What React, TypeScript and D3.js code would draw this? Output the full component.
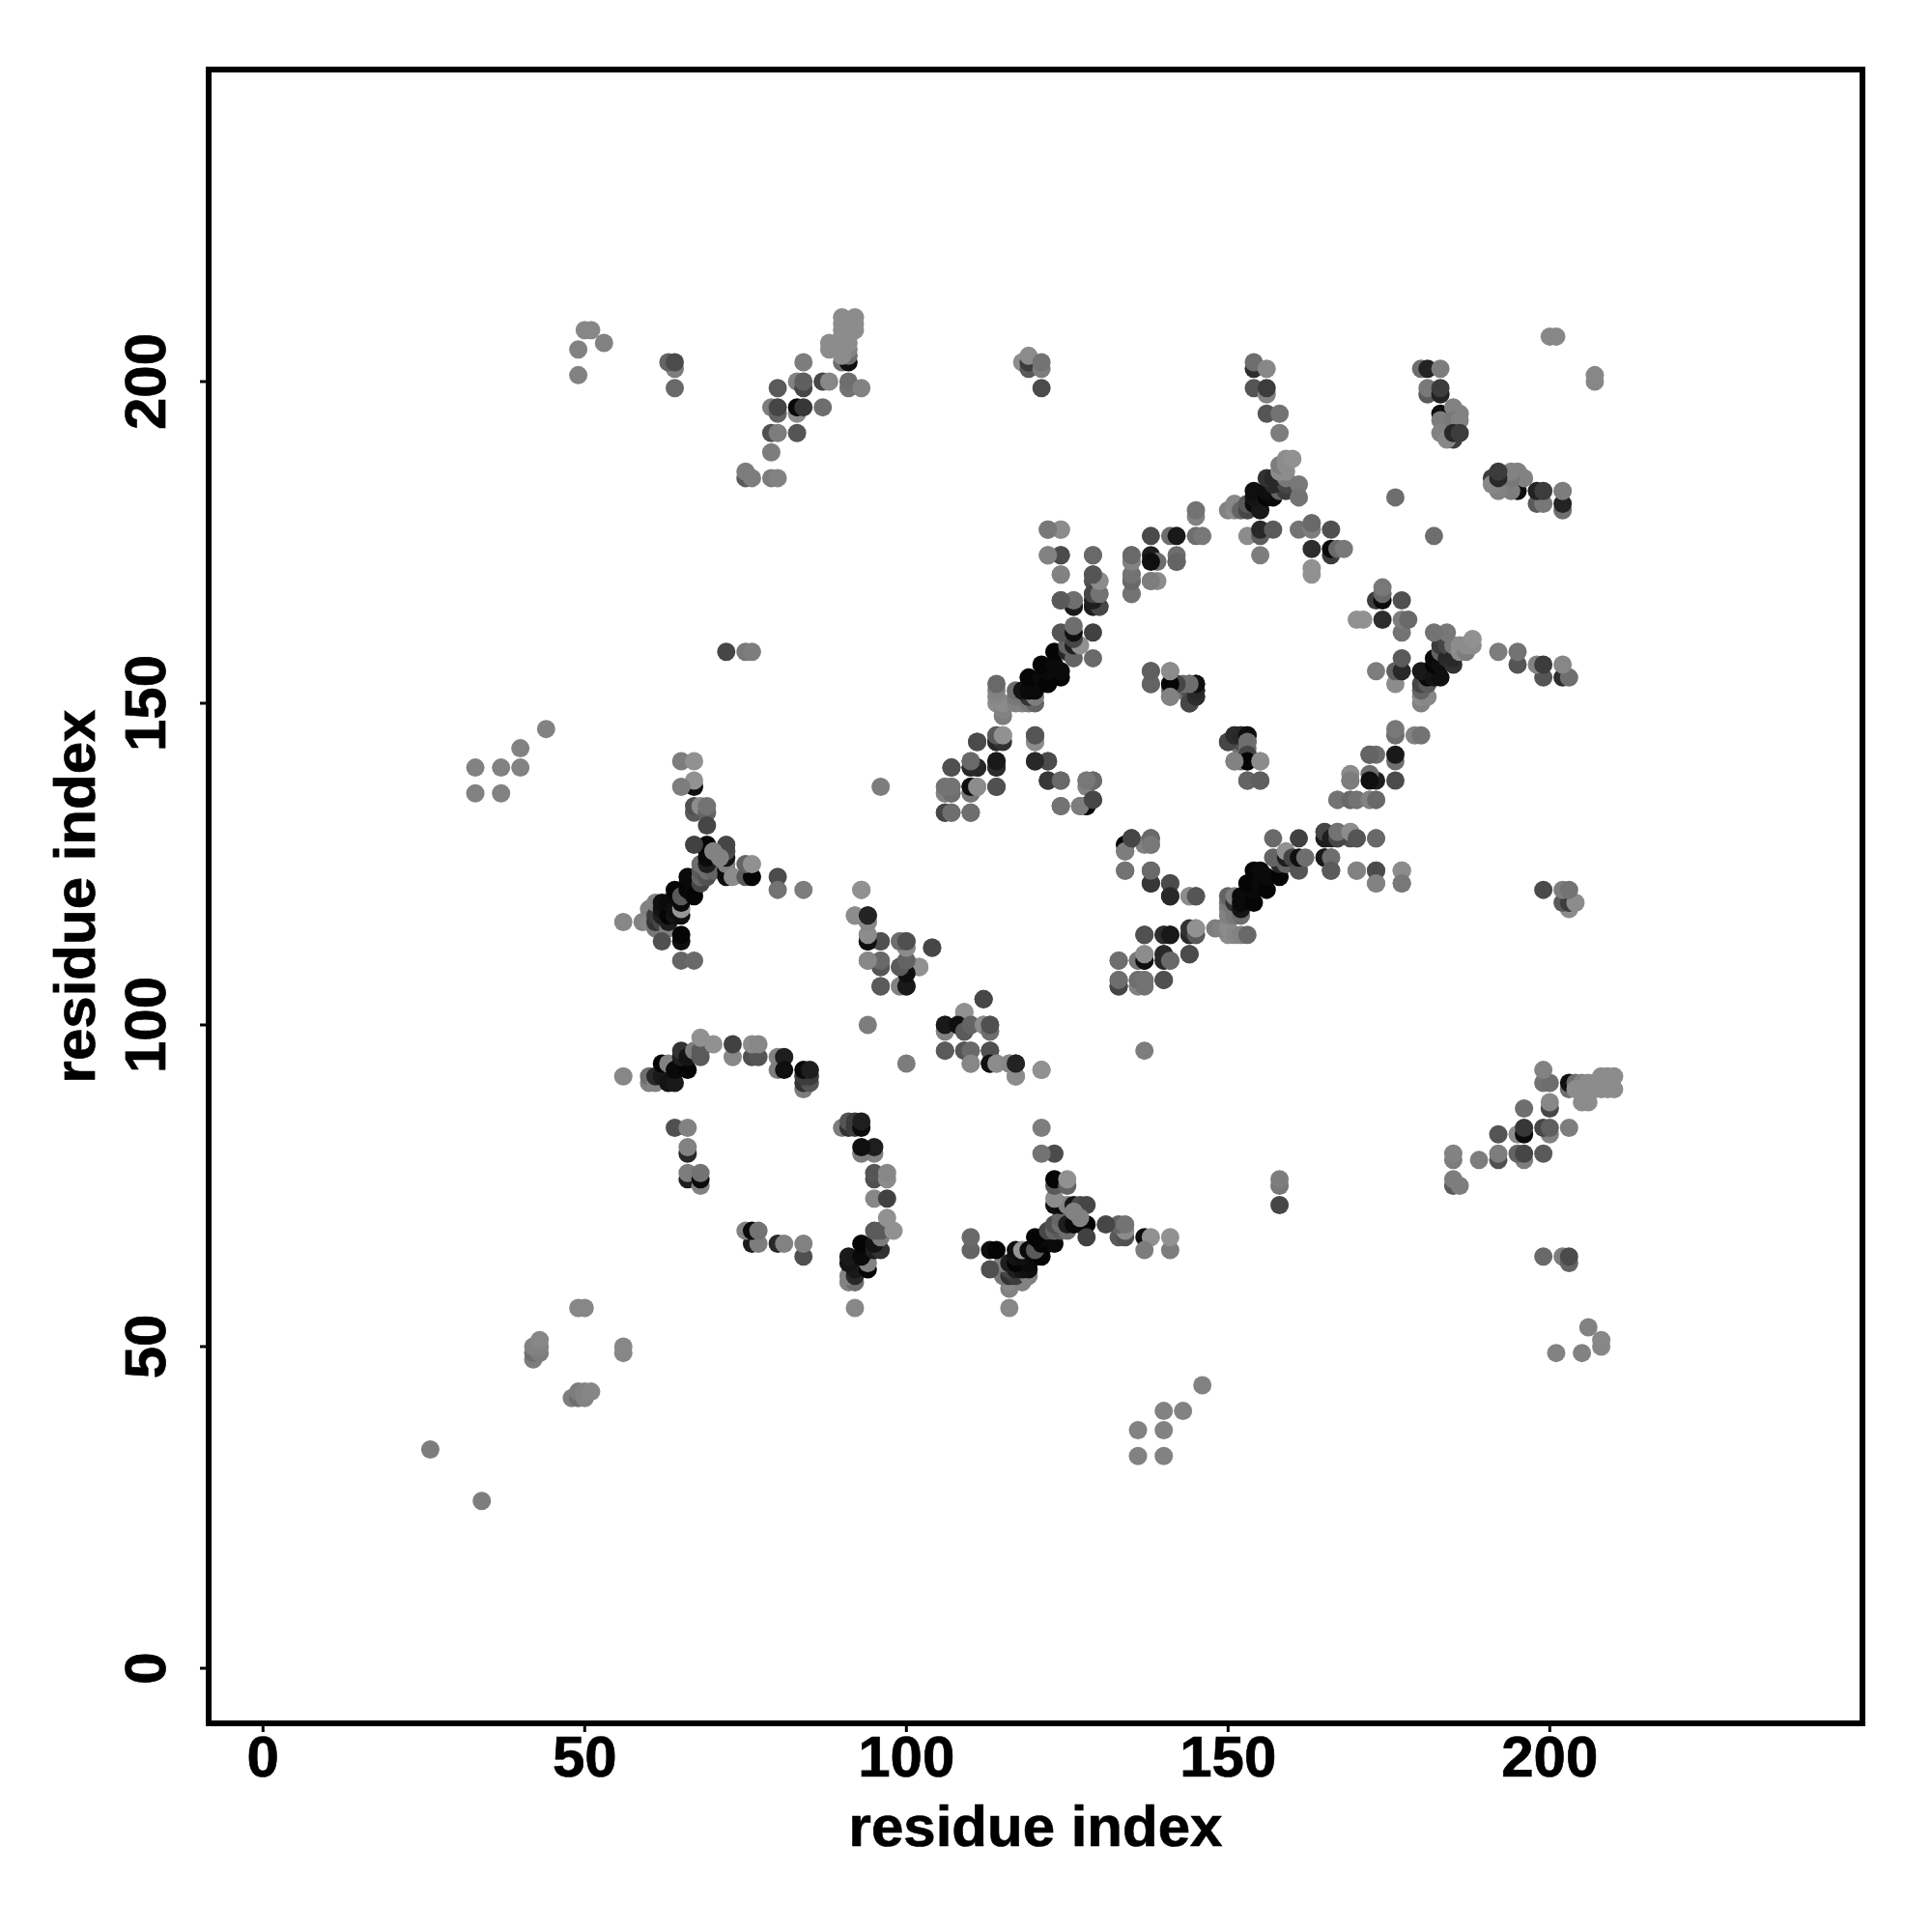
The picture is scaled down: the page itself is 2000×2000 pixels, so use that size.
import React from "react";
import * as d3 from "d3";

// Each contact: [residue i, residue j, grey level]. The map is symmetric, so only i < j is listed.
type Contact = [number, number, number];

const farContacts: Contact[] = [
  [26,34,125],[33,136,130],[33,140,130],[37,136,130],[37,140,130],[40,140,130],[40,143,130],[44,146,130],
  [42,48,125],[42,49,110],[43,49,125],[42,50,130],[43,50,130],[43,51,135],[49,56,135],[50,56,135],
  [49,201,130],[49,205,130],[50,208,135],[51,208,135],[53,206,130],
  [64,199,105],[64,202,125],[63,203,100],[64,203,75],
  [72,158,70],[75,158,120],[76,158,125],[96,137,125],[94,100,125],[176,182,110],
  [200,207,135],[201,207,135],
];

const sheetA: Contact[] = [
  [56,116,135],[59,116,130],[60,116,135],[60,118,130],[61,115,120],[61,116,50],[61,117,60],[61,119,130],
  [62,116,70],[62,117,30],[62,118,20],[62,119,15],[63,115,130],[63,116,30],[63,117,5],[63,119,10],
  [64,117,20],[64,118,15],[64,120,10],[64,121,5],[65,117,15],[65,118,150],[65,119,10],[65,120,90],
  [66,121,8],[66,122,5],[66,123,10],[67,121,10],[67,122,10],[67,120,5],[68,122,70],[68,123,100],[68,124,90],
  [69,123,80],[69,124,110],[70,124,100],[62,113,80],[65,113,15],[65,114,5],[65,110,100],[67,110,105],
  [68,125,110],[69,125,30],[69,126,10],[69,127,10],[69,128,5],[67,128,65],[72,123,15],[72,124,10],
  [72,125,130],[72,126,20],[72,127,75],[72,128,70],[70,127,130],[71,126,130],[73,123,140],[75,123,90],
  [76,123,5],[75,125,100],[76,125,145],[80,123,75],[80,121,115],[84,121,125],
  [67,133,90],[67,134,80],[68,134,140],[69,133,100],[69,134,115],[69,131,70],[67,137,15],[67,138,145],
  [65,137,125],[65,141,125],[67,141,145],
];

const sheetB: Contact[] = [
  [92,117,140],[93,121,145],[94,117,30],[94,116,130],[94,113,10],[94,114,135],[96,113,90],[99,113,125],[100,112,130],[100,113,80],
  [104,112,80],[94,110,135],[96,109,85],[96,110,105],[99,109,110],[100,109,5],[101,109,60],[100,110,115],[102,109,140],
  [96,106,85],[99,106,135],[100,106,25],
  [106,99,130],[106,100,25],[106,96,90],[109,102,145],[108,100,15],[109,99,90],[110,100,100],[112,100,140],[113,99,110],[113,100,80],
  [112,104,70],[109,96,85],[110,96,105],[110,94,135],[113,96,80],[113,94,15],[114,94,140],[116,94,135],[117,92,140],[117,94,35],[121,93,145],
].map(([a, b, g]) => [Math.min(a, b), Math.max(a, b), g] as Contact);

const arcC: Contact[] = [
  [56,92,135],[60,91,130],[60,92,110],[61,91,130],[61,92,40],[62,92,25],[63,91,20],[64,91,25],[62,94,5],[63,94,130],
  [64,93,10],[65,94,10],[66,93,5],[65,95,30],[65,96,50],[66,95,20],[67,96,125],[68,95,90],[68,96,90],[68,98,145],[70,97,145],
  [73,95,135],[73,97,65],[76,95,80],[77,95,85],[76,97,140],[77,97,135],
  [80,95,130],[80,93,125],[81,95,30],[81,93,15],[84,90,125],[84,91,50],[85,91,85],[84,92,60],[85,92,60],[84,93,10],[85,93,30],
  [64,84,80],[66,84,130],[66,80,40],[66,81,130],[66,76,30],[66,77,125],[68,75,130],[68,76,10],[68,77,115],
];

const topLeft: Contact[] = [
  [75,185,90],[75,186,125],[76,185,125],[79,185,125],[80,185,130],[79,189,125],[79,192,80],[80,192,125],[83,192,85],
  [79,196,125],[80,195,100],[80,196,70],[83,195,140],[83,196,10],[84,196,55],[87,196,110],[80,199,90],
  [83,200,130],[84,199,70],[84,200,95],[87,200,70],[88,200,135],[91,199,115],[91,200,110],[93,199,130],[84,203,125],
  [90,203,110],[91,203,15],[91,204,110],[91,205,130],[88,205,140],[88,206,140],[91,206,140],[91,207,140],
  [90,204,140],[90,205,140],[90,206,140],[90,207,140],[90,208,140],[90,209,140],[90,210,140],[92,208,140],[92,209,140],[92,210,140],
  [118,203,140],[119,202,90],[119,203,60],[119,204,140],[121,202,125],[121,203,115],[121,199,75],
];

const middle: Contact[] = [
  [106,133,70],[107,133,120],[110,133,115],[106,136,130],[107,136,105],[106,137,130],[107,137,110],[110,136,100],[110,137,10],[111,137,140],
  [114,137,85],[107,140,80],[110,140,75],[110,141,100],[111,140,35],[114,140,40],[114,141,10],[111,144,70],[114,144,60],[114,145,130],[115,145,145],
  [120,141,25],[120,144,130],[120,145,85],[122,141,70],[122,138,35],[124,138,105],[124,134,110],
  [127,134,125],[128,134,5],[129,135,55],[128,137,130],[128,138,130],[129,138,95],
  [133,106,70],[133,107,110],[133,110,110],[136,106,130],[136,107,110],[136,110,120],[137,106,115],[137,107,115],[137,110,15],[137,111,140],
  [140,107,80],[140,110,40],[140,111,40],[141,110,105],[144,111,75],[137,114,80],[140,114,45],[141,114,25],[144,114,40],[144,115,50],[145,114,90],[145,115,145],
  [138,122,55],[141,122,75],[141,120,40],[144,120,140],[145,120,85],[134,124,115],[138,124,105],
  [128,134,5],[127,134,125],[129,135,70],[129,138,105],[128,138,120],
].map(([a, b, g]) => [Math.min(a, b), Math.max(a, b), g] as Contact);

const helix: Contact[] = [
  [114,150,140],[115,148,125],[115,149,130],[115,150,140],[114,151,135],[114,152,130],[114,153,105],[117,150,130],[118,150,130],[119,150,120],[120,150,100],
  [117,151,120],[119,151,50],[120,151,125],[117,152,110],[118,152,20],[119,152,10],[120,152,10],[119,154,5],[121,154,10],[122,153,5],[124,154,5],[122,155,10],[124,155,10],
  [121,156,5],[123,156,10],[123,158,5],[125,158,40],[125,159,100],[126,157,100],[126,159,30],[127,159,145],[129,157,105],[126,160,70],[124,161,85],[126,161,15],[129,161,65],[126,162,110],
  [124,166,90],[126,165,35],[126,166,115],[129,165,60],[130,165,105],[129,167,80],[130,167,125],[129,169,80],[130,169,140],[129,170,95],
  [122,173,135],[124,173,95],[129,173,115],[124,170,135],[122,177,125],[124,177,140],
];

const helixTop: Contact[] = [
  [135,167,115],[135,169,105],[135,170,115],[135,172,115],[135,173,115],[138,169,135],[139,169,140],[138,173,30],[139,172,110],[142,172,100],[142,173,110],
  [138,176,75],[141,176,110],[142,176,25],[145,176,110],[146,176,120],[145,179,130],[145,180,115],
  [138,153,95],[138,155,105],[141,151,135],[141,152,110],[141,153,5],[141,155,140],[142,153,65],[143,152,115],[144,150,70],[144,152,80],[144,153,60],[145,151,30],[145,152,25],[145,153,20],
  [150,144,70],[151,145,45],[152,145,40],[153,145,15],[153,144,110],[153,143,110],[153,142,70],[153,141,5],[151,141,130],[155,141,140],[153,138,100],[155,138,95],
].map(([a, b, g]) => [Math.min(a, b), Math.max(a, b), g] as Contact);

const helixRight: Contact[] = [
  [150,180,130],[151,180,140],[151,181,135],[152,180,100],[153,180,70],[153,181,90],[154,181,10],[155,180,25],[154,182,20],[154,183,15],[156,182,5],[157,182,10],[156,183,15],
  [158,183,100],[159,183,60],[157,184,40],[159,184,70],[156,185,50],[157,185,40],[159,185,120],[158,186,140],[159,186,140],[158,187,125],[159,187,140],[159,188,140],[160,188,145],[161,184,120],[161,182,115],
  [153,176,140],[155,176,95],[155,177,40],[157,177,90],[155,173,125],[161,177,115],[163,177,125],[163,178,105],[166,177,80],[163,174,45],[166,173,60],[166,174,10],[167,174,105],[168,174,120],[163,170,145],[163,171,145],
  [154,202,45],[154,203,110],[156,202,135],[154,199,85],[156,198,130],[156,199,60],[156,195,85],[158,195,115],[158,192,125],
  [180,202,110],[181,202,35],[183,202,125],[181,198,90],[181,199,120],[183,198,35],[183,199,60],[183,195,15],[185,196,130],[186,195,130],[183,194,125],[185,194,120],[186,194,130],[183,192,130],[185,191,60],[184,191,135],[185,192,40],[186,192,60],
  [165,126,25],[166,126,110],[166,124,90],[170,124,130],[173,124,75],[173,122,130],[177,124,140],[177,122,120],[165,129,30],[165,130,70],[166,129,30],[167,129,70],[167,130,115],[169,130,140],[170,129,85],[173,129,105],
  [167,135,115],[169,135,105],[170,135,115],[172,135,130],[173,135,105],[169,138,125],[172,142,100],[172,138,15],
].map(([a, b, g]) => [Math.min(a, b), Math.max(a, b), g] as Contact);

const tickValues = [0, 50, 100, 150, 200];
const axisTitle = "residue index";

const allContacts: Contact[] = [...farContacts, ...sheetA, ...sheetB, ...arcC, ...topLeft, ...middle, ...helix, ...helixTop, ...helixRight];

export default function App() {
  const x = d3.scaleLinear().domain([-8.45, 248.6]).range([216, 1928]);
  const y = d3.scaleLinear().domain([-8.56, 248.5]).range([1784, 72]);
  const textStyle = {
    fontFamily: "'Liberation Sans', Arial, sans-serif",
    fontWeight: "bold",
    fontSize: 60,
    textAnchor: "middle" as const,
    stroke: "#000",
    strokeWidth: 0.7,
  };
  return (
    <svg width={2000} height={2000} style={{ position: "absolute", left: 0, top: 0, background: "#fff" }}>
      {allContacts.flatMap(([i, j, g], k) => [
        <circle key={`a${k}`} cx={x(i)} cy={y(j)} r={9.5} fill={d3.rgb(g, g, g).formatHex()} />,
        <circle key={`b${k}`} cx={x(j)} cy={y(i)} r={9.5} fill={d3.rgb(g, g, g).formatHex()} />,
      ])}
      <rect x={216} y={72} width={1712} height={1712} fill="none" stroke="#000" strokeWidth={6} />
      {tickValues.map((t) => (
        <g key={t}>
          <line x1={x(t)} x2={x(t)} y1={1787} y2={1793} stroke="#000" strokeWidth={3} />
          <line x1={213} x2={207} y1={y(t)} y2={y(t)} stroke="#000" strokeWidth={3} />
          <text x={x(t)} y={1839} {...textStyle}>{t}</text>
          <text transform={`translate(170.5,${y(t)}) rotate(-90)`} {...textStyle}>{t}</text>
        </g>
      ))}
      <text x={1072} y={1911} {...textStyle}>{axisTitle}</text>
      <text transform={`translate(98,928) rotate(-90)`} {...textStyle}>{axisTitle}</text>
    </svg>
  );
}
